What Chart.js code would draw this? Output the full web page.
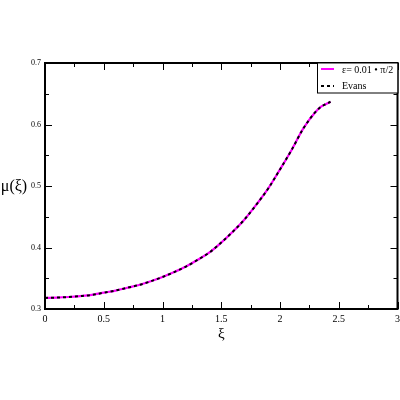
<!DOCTYPE html>
<html>
<head>
<meta charset="utf-8">
<script src="https://cdn.jsdelivr.net/npm/chart.js@4/dist/chart.umd.min.js"></script>
<style>
  html, body { margin: 0; padding: 0; background: #fff; }
  #muChart { display: block; }
</style>
</head>
<body>
<canvas id="muChart" width="400" height="400"></canvas>
<script>
// values
const xiValues = [0, 0.1, 0.2, 0.3, 0.4, 0.5, 0.6, 0.7, 0.8, 0.9, 1.0, 1.1, 1.2, 1.3, 1.4, 1.5, 1.6, 1.7, 1.8, 1.9, 2.0, 2.1, 2.2, 2.3, 2.35, 2.4, 2.43];
const muEps = [0.318, 0.3185, 0.3195, 0.321, 0.323, 0.3265, 0.330, 0.3345, 0.339, 0.345, 0.352, 0.360, 0.369, 0.380, 0.392, 0.408, 0.426, 0.446, 0.470, 0.496, 0.527, 0.559, 0.594, 0.620, 0.629, 0.634, 0.637];
const muEvans = [0.318, 0.3185, 0.3195, 0.321, 0.323, 0.3265, 0.330, 0.3345, 0.339, 0.345, 0.352, 0.360, 0.369, 0.380, 0.392, 0.408, 0.426, 0.446, 0.470, 0.496, 0.527, 0.559, 0.594, 0.620, 0.629, 0.634, 0.637];
const xTickLabels = ["0", "0.5", "1", "1.5", "2", "2.5", "3"];
const yTickLabels = ["0.3", "0.4", "0.5", "0.6", "0.7"];
const seriesNames = ["\u03b5= 0.01 \u2022 \u03c0/2", "Evans"];

const SERIF = "'Liberation Serif', 'DejaVu Serif', serif";

function toPoints(xs, ys) {
  return xs.map((x, i) => ({ x: x, y: ys[i] }));
}

function fmt(v) {
  return String(Math.round(v * 1000) / 1000);
}

// frame, inward ticks, axis titles and the boxed legend
const decorations = {
  id: "decorations",
  afterDraw(chart) {
    const { ctx, chartArea: a, scales } = chart;
    const xs = scales.x, ys = scales.y;
    ctx.save();
    ctx.strokeStyle = "#000";

    // inward ticks on all four sides
    ctx.lineWidth = 1;
    xs.ticks.forEach(t => {
      const px = Math.round(xs.getPixelForValue(t.value)) + 0.5;
      const len = xTickLabels.includes(fmt(t.value)) ? 7 : 4;
      ctx.beginPath();
      ctx.moveTo(px, a.bottom); ctx.lineTo(px, a.bottom - len);
      ctx.moveTo(px, a.top); ctx.lineTo(px, a.top + len);
      ctx.stroke();
    });
    ys.ticks.forEach(t => {
      const py = Math.round(ys.getPixelForValue(t.value)) + 0.5;
      const len = yTickLabels.includes(fmt(t.value)) ? 7 : 4;
      ctx.beginPath();
      ctx.moveTo(a.left, py); ctx.lineTo(a.left + len, py);
      ctx.moveTo(a.right, py); ctx.lineTo(a.right - len, py);
      ctx.stroke();
    });

    // frame
    ctx.lineWidth = 2;
    ctx.strokeRect(a.left, a.top, a.right - a.left, a.bottom - a.top);

    // axis titles
    ctx.fillStyle = "#000";
    ctx.font = "16px " + SERIF;
    ctx.textAlign = "center";
    ctx.textBaseline = "middle";
    ctx.fillText("\u03bc(\u03be)", 14, 187);
    ctx.font = "15px " + SERIF;
    ctx.fillText("\u03be", (a.left + a.right) / 2, 334);

    // legend box
    const bx = 317, by = a.top, bw = a.right - 317, bh = 30;
    ctx.fillStyle = "#fff";
    ctx.fillRect(bx, by, bw, bh);
    ctx.lineWidth = 1;
    ctx.strokeStyle = "#000";
    ctx.strokeRect(bx + 0.5, by, bw, bh);

    ctx.lineWidth = 2;
    ctx.strokeStyle = "#ff00ff";
    ctx.beginPath();
    ctx.moveTo(321, by + 6); ctx.lineTo(334, by + 6);
    ctx.stroke();
    ctx.strokeStyle = "#000";
    ctx.setLineDash([3, 3]);
    ctx.beginPath();
    ctx.moveTo(321, by + 23); ctx.lineTo(334, by + 23);
    ctx.stroke();
    ctx.setLineDash([]);

    ctx.fillStyle = "#000";
    ctx.font = "10px " + SERIF;
    ctx.textAlign = "left";
    ctx.fillText(seriesNames[0], 342, by + 7);
    ctx.fillText(seriesNames[1], 342, by + 23);
    ctx.restore();
  }
};

new Chart(document.getElementById("muChart").getContext("2d"), {
  type: "scatter",
  data: {
    datasets: [
      {
        label: seriesNames[0],
        data: toPoints(xiValues, muEps),
        showLine: true,
        borderColor: "#ff00ff",
        borderWidth: 2.2,
        pointRadius: 0,
        cubicInterpolationMode: "monotone",
        order: 2
      },
      {
        label: seriesNames[1],
        data: toPoints(xiValues, muEvans),
        showLine: true,
        borderColor: "#000",
        borderWidth: 2,
        borderDash: [3, 3],
        pointRadius: 0,
        cubicInterpolationMode: "monotone",
        order: 1
      }
    ]
  },
  options: {
    responsive: false,
    animation: false,
    layout: { padding: { top: 63, right: 2.5, bottom: 61, left: 0 } },
    plugins: {
      legend: { display: false },
      tooltip: { enabled: false }
    },
    scales: {
      x: {
        type: "linear",
        min: 0,
        max: 3,
        afterFit: s => { s.height = 30; s.paddingRight = 0; s.paddingLeft = 0; },
        border: { display: false },
        grid: { drawOnChartArea: false, drawTicks: false, color: "rgba(0,0,0,0)" },
        ticks: {
          stepSize: 0.25,
          autoSkip: false,
          maxRotation: 0,
          padding: 4,
          color: "#000",
          font: { family: SERIF, size: 10 },
          callback: v => xTickLabels.includes(fmt(v)) ? fmt(v) : ""
        }
      },
      y: {
        type: "linear",
        min: 0.3,
        max: 0.7,
        afterFit: s => { s.width = 45; },
        border: { display: false },
        grid: { drawOnChartArea: false, drawTicks: false, color: "rgba(0,0,0,0)" },
        ticks: {
          stepSize: 0.05,
          autoSkip: false,
          padding: 4,
          color: "#000",
          font: { family: SERIF, size: 8 },
          callback: v => yTickLabels.includes(fmt(v)) ? fmt(v) : ""
        }
      }
    }
  },
  plugins: [decorations]
});
</script>
</body>
</html>
